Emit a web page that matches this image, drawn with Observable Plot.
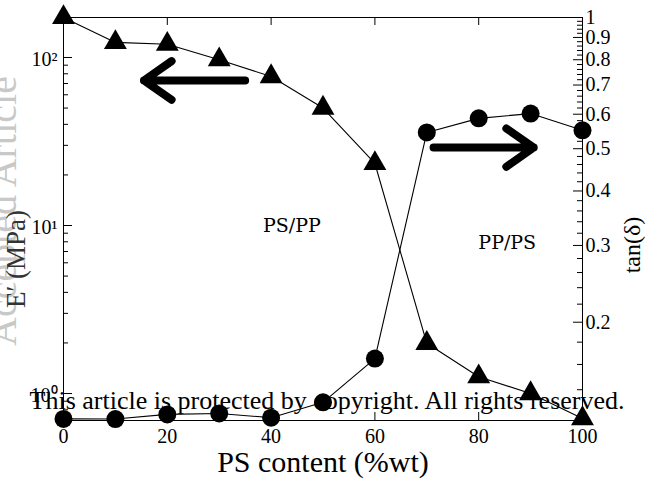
<!DOCTYPE html>
<html>
<head>
<meta charset="utf-8">
<script src="https://cdn.jsdelivr.net/npm/d3@7"></script>
<script src="https://cdn.jsdelivr.net/npm/@observablehq/plot@0.6"></script>
<style>
  html, body { margin: 0; padding: 0; background: #fff; }
  #chart { width: 646px; height: 480px; overflow: hidden; }
</style>
</head>
<body>
<div id="chart"></div>
<script>
// ---- data ----
const pct = [0, 10, 20, 30, 40, 50, 60, 70, 80, 90, 100];
const modulus = [173, 123, 120, 97, 77, 50, 23.4, 1.99, 1.26, 1.0, 0.71];          // E' (MPa), left log axis
const tanDelta = [0.120, 0.1199, 0.1229, 0.1235, 0.1208, 0.131, 0.165, 0.545, 0.587, 0.602, 0.551]; // tan(δ), right log axis
const xTicks = [0, 20, 40, 60, 80, 100];
const leftMajor = [1, 10, 100];
const leftLabels = ["10\u2070", "10\u00b9", "10\u00b2"];
const leftMinor = [0.7, 0.8, 0.9, 2, 3, 4, 5, 6, 7, 8, 9, 20, 30, 40, 50, 60, 70, 80, 90];
const rightMajor = [0.2, 0.3, 0.4, 0.5, 0.6, 0.7, 0.8, 0.9, 1];
const rightLabels = ["0.2", "0.3", "0.4", "0.5", "0.6", "0.7", "0.8", "0.9", "1"];
const rightMinor = [0.12, 0.14, 0.16, 0.18, 0.22, 0.24, 0.26, 0.28, 0.32, 0.34, 0.36, 0.38,
  0.42, 0.44, 0.46, 0.48, 0.52, 0.54, 0.56, 0.58, 0.62, 0.64, 0.66, 0.68,
  0.72, 0.74, 0.76, 0.78, 0.82, 0.84, 0.86, 0.88, 0.92, 0.94, 0.96, 0.98];
const L_DOMAIN = [0.691, 173];
const T_DOMAIN = [0.119, 1];

// map right-axis values into the left-axis scale space (both logarithmic)
const la = Math.log10(L_DOMAIN[0]), lb = Math.log10(L_DOMAIN[1]);
const ta = Math.log10(T_DOMAIN[0]), tb = Math.log10(T_DOMAIN[1]);
const toLeft = t => 10 ** (la + (Math.log10(t) - ta) / (tb - ta) * (lb - la));

const rows = pct.map((p, i) => ({pct: p, mod: modulus[i], tan: tanDelta[i], tanL: toLeft(tanDelta[i])}));

const W = 646, H = 480;
const mL = 63, mR = 64, mT = 17, mB = 60;
const innerW = W - mL - mR, innerH = H - mT - mB;
const FONT = "Liberation Serif";

const chart = Plot.plot({
  width: W, height: H,
  marginLeft: mL, marginRight: mR, marginTop: mT, marginBottom: mB,
  style: {fontFamily: FONT, fontSize: "20px", color: "#000", background: "#fff", overflow: "visible"},
  x: {domain: [0, 100], label: null},
  y: {type: "log", domain: L_DOMAIN, label: null, axis: null},
  marks: [
    // watermark & axis titles
    Plot.text(["Accepted Article"], {frameAnchor: "left", textAnchor: "middle", lineAnchor: "middle", rotate: -90, dx: -60, dy: -8, fontSize: 40, fill: "#c8c8c8"}),
    Plot.text(["E\u2032 (MPa)"], {frameAnchor: "left", textAnchor: "middle", lineAnchor: "middle", rotate: -90, dx: -47, dy: 40, fontSize: 27, fill: "#333"}),
    Plot.text(["tan(\u03b4)"], {frameAnchor: "right", textAnchor: "middle", lineAnchor: "middle", rotate: -90, dx: 50, dy: 26, fontSize: 24}),
    Plot.text(["PS content (%wt)"], {frameAnchor: "bottom", textAnchor: "middle", lineAnchor: "middle", dy: 42, fontSize: 30}),
    // frame and inward ticks
    Plot.frame({stroke: "#000", strokeWidth: 1}),
    Plot.tickX(xTicks, {x: d => d, insetTop: innerH - 8}),
    Plot.tickX(xTicks.slice(1, -1), {x: d => d, insetBottom: innerH - 8}),
    Plot.tickY(leftMajor, {y: d => d, insetRight: innerW - 9}),
    Plot.tickY(leftMinor, {y: d => d, insetRight: innerW - 5}),
    Plot.tickY(rightMajor, {y: d => toLeft(d), insetLeft: innerW - 9}),
    Plot.tickY(rightMinor, {y: d => toLeft(d), insetLeft: innerW - 5}),
    // tick labels
    Plot.axisX(xTicks, {anchor: "bottom", tickSize: 0, tickPadding: 8, fontSize: 20, label: null}),
    Plot.text(leftMajor, {y: d => d, text: (d, i) => leftLabels[i], frameAnchor: "left", textAnchor: "end", lineAnchor: "middle", dx: -6, dy: 2, fontSize: 20}),
    Plot.text(rightMajor, {y: d => toLeft(d), text: (d, i) => rightLabels[i], frameAnchor: "right", textAnchor: "start", lineAnchor: "middle", dx: 3, fontSize: 20}),
    // data
    Plot.line(rows, {x: "pct", y: "mod", stroke: "#000", strokeWidth: 1.1}),
    Plot.line(rows, {x: "pct", y: "tanL", stroke: "#000", strokeWidth: 1.1}),
    Plot.dot(rows, {x: "pct", y: "mod", symbol: "triangle", r: 8.5, fill: "#000", stroke: "none"}),
    Plot.dot(rows, {x: "pct", y: "tanL", symbol: "circle", r: 9, fill: "#000", stroke: "none"}),
    // arrows indicating the axis of each series
    Plot.arrow([{x1: 35, x2: 15.5, y: 73}], {x1: "x1", x2: "x2", y1: "y", y2: "y", stroke: "#000", strokeWidth: 8, headLength: 9, headAngle: 70}),
    Plot.arrow([{x1: 71.3, x2: 90.6, y: toLeft(0.503)}], {x1: "x1", x2: "x2", y1: "y", y2: "y", stroke: "#000", strokeWidth: 8, headLength: 9, headAngle: 70}),
    // region labels
    Plot.text([{x: 44, y: 10, t: "PS/PP"}], {x: "x", y: "y", text: "t", fontSize: 19, fontFamily: "DejaVu Serif"}),
    Plot.text([{x: 85.5, y: 7.9, t: "PP/PS"}], {x: "x", y: "y", text: "t", fontSize: 19, fontFamily: "DejaVu Serif"}),
    // copyright notice
    Plot.text(["This article is protected by copyright. All rights reserved."], {frameAnchor: "bottom", textAnchor: "middle", lineAnchor: "middle", dy: -20, dx: 4, fontSize: 26, fill: "#000"})
  ]
});
document.getElementById("chart").appendChild(chart);
</script>
</body>
</html>
